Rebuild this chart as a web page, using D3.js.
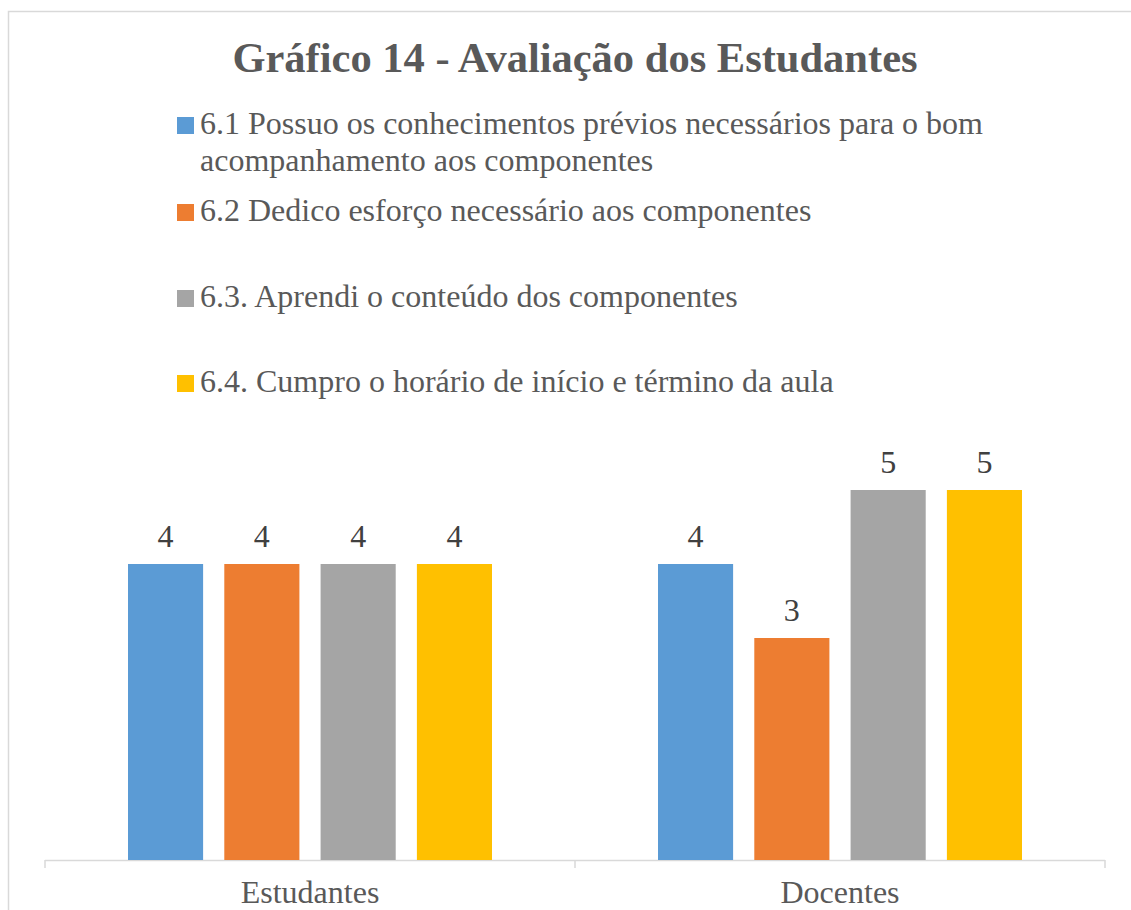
<!DOCTYPE html>
<html>
<head>
<meta charset="utf-8">
<script src="https://cdn.jsdelivr.net/npm/d3@7"></script>
<style>
  body { margin: 0; background: #fff; }
  text { font-family: "Liberation Serif", "Times New Roman", serif; }
</style>
</head>
<body>
<div id="chart"></div>
<script>
const width = 1131;
const height = 910;

// Data

const categories = ["Estudantes", "Docentes"];
const seriesNames = [
  "6.1 Possuo os conhecimentos prévios necessários para o bom|acompanhamento aos componentes",
  "6.2 Dedico esforço necessário aos componentes",
  "6.3. Aprendi o conteúdo dos componentes",
  "6.4. Cumpro o horário de início e término da aula"
];
const estudantesValues = [4, 4, 4, 4];
const docentesValues = [4, 3, 5, 5];
const colors = ["#5b9bd5", "#ed7d31", "#a5a5a5", "#ffc000"];

const valuesByCategory = [estudantesValues, docentesValues];

// Setting up the svg

const svg = d3.select("#chart")
  .append("svg")
  .attr("width", width)
  .attr("height", height);

// Chart border (runs off the page on right and bottom)

svg.append("rect")
  .attr("x", 8.5)
  .attr("y", 11.5)
  .attr("width", 1140)
  .attr("height", 920)
  .attr("fill", "none")
  .attr("stroke", "#d9d9d9")
  .attr("stroke-width", 1.5);

// Title

svg.append("text")
  .attr("x", 575)
  .attr("y", 72)
  .attr("text-anchor", "middle")
  .style("font-size", "42.5px")
  .style("font-weight", "bold")
  .style("fill", "#595959")
  .text("Gráfico 14 - Avaliação dos Estudantes");

// Legend

const legendY = [134, 221, 307, 392];
const legend = svg.append("g");

seriesNames.forEach((name, i) => {
  legend.append("rect")
    .attr("x", 177)
    .attr("y", legendY[i] - 17)
    .attr("width", 17)
    .attr("height", 17)
    .attr("fill", colors[i]);
  const lines = name.split("|");
  lines.forEach((ln, j) => {
    legend.append("text")
      .attr("x", 200)
      .attr("y", legendY[i] + j * 37)
      .style("font-size", "32px")
      .style("fill", "#595959")
      .text(ln);
  });
});

// Scales

const x0 = d3.scaleBand()
  .domain(categories)
  .range([45, 1105]);

const x1 = d3.scaleBand()
  .domain(d3.range(seriesNames.length))
  .range([83, 447])
  .paddingInner(0.22);

const y = d3.scaleLinear()
  .domain([0, 6])
  .range([860, 416]);

// Axis

const xAxis = svg.append("g")
  .attr("transform", "translate(0,860)")
  .call(d3.axisBottom(x0).tickSize(0));

xAxis.select(".domain").remove();
xAxis.selectAll(".tick text")
  .attr("y", 43)
  .attr("dy", null)
  .style("font-family", "'Liberation Serif', 'Times New Roman', serif")
  .style("font-size", "32px")
  .style("fill", "#595959");

svg.append("line")
  .attr("x1", 45).attr("x2", 1105)
  .attr("y1", 860.5).attr("y2", 860.5)
  .attr("stroke", "#d9d9d9")
  .attr("stroke-width", 1.5);

// Category boundary ticks

const boundaries = [x0.range()[0]].concat(categories.map(c => x0(c) + x0.bandwidth()));
svg.selectAll(".boundary")
  .data(boundaries)
  .join("line")
  .attr("x1", d => d).attr("x2", d => d)
  .attr("y1", 860).attr("y2", 868)
  .attr("stroke", "#d9d9d9")
  .attr("stroke-width", 1.5);

// Bars

const groups = svg.selectAll(".group")
  .data(categories)
  .join("g")
  .attr("transform", d => `translate(${x0(d)},0)`);

groups.selectAll("rect")
  .data((d, ci) => valuesByCategory[ci].map((v, si) => ({ v, si })))
  .join("rect")
  .attr("x", d => x1(d.si))
  .attr("y", d => y(d.v))
  .attr("width", x1.bandwidth())
  .attr("height", d => y(0) - y(d.v))
  .attr("fill", d => colors[d.si]);

// Data labels

groups.selectAll(".label")
  .data((d, ci) => valuesByCategory[ci].map((v, si) => ({ v, si })))
  .join("text")
  .attr("class", "label")
  .attr("x", d => x1(d.si) + x1.bandwidth() / 2)
  .attr("y", d => y(d.v) - 17)
  .attr("text-anchor", "middle")
  .style("font-size", "32px")
  .style("fill", "#404040")
  .text(d => d.v);
</script>
</body>
</html>
